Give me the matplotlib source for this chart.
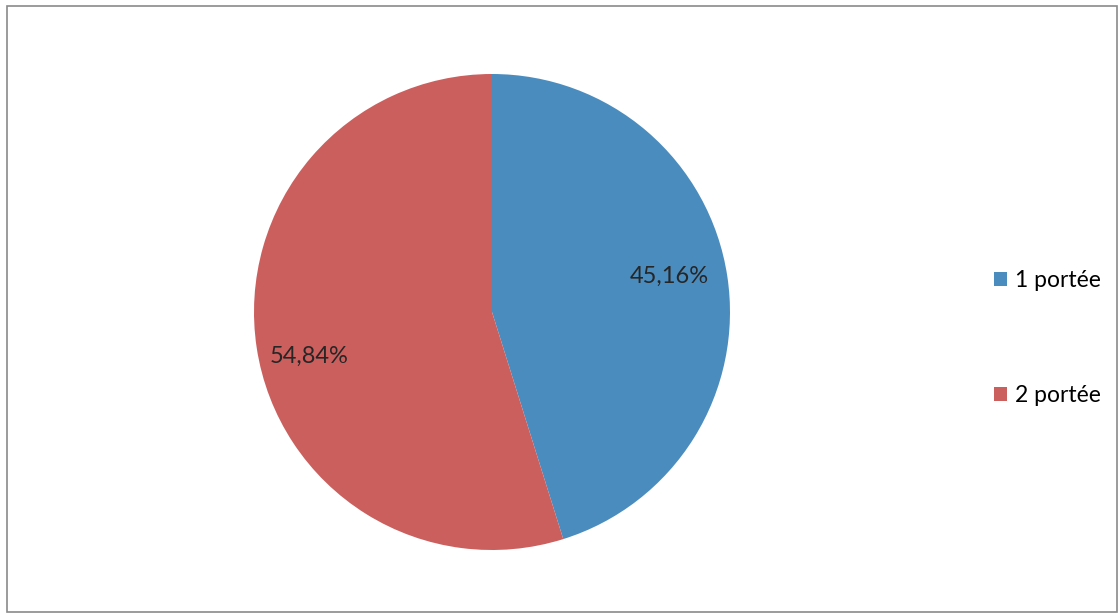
import numpy as np
import matplotlib.pyplot as plt
from matplotlib.patches import Rectangle

labels = ['1 portée', '2 portée']
shares = [45.16, 54.84]
colors = ['#4b8cbf', '#cb5f5d']

W, H = 1119, 614
fig = plt.figure(figsize=(W / 100, H / 100), dpi=100)
plt.rcParams['font.family'] = ['Lato', 'DejaVu Sans']

# chart frame
fig.patches.append(Rectangle((7 / W, 2 / H), (W - 9) / W, (H - 8) / H,
                             transform=fig.transFigure, fill=False,
                             edgecolor='#8a8a8a', linewidth=1.2))

# pie axes, center ~ (492, 312) px, radius ~ 238 px
cx, cy, r = 492, 312, 238
ax = fig.add_axes([(cx - r) / W, (H - cy - r) / H, 2 * r / W, 2 * r / H])


def fmt(p):
    return f'{p:.2f}'.replace('.', ',') + '%'


wedges, _, autotexts = ax.pie(shares, colors=colors, startangle=90, counterclock=False,
                              autopct=fmt, pctdistance=0.77, radius=1,
                              wedgeprops=dict(linewidth=0))

# label placement tweaks (extra angle in degrees, distance from centre)
label_shift = [(2.5, 0.76), (5.0, 0.79)]
for w, t, (da, dist) in zip(wedges, autotexts, label_shift):
    mid = np.deg2rad((w.theta1 + w.theta2) / 2 + da)
    t.set_position((dist * np.cos(mid), dist * np.sin(mid)))
    t.set_fontsize(17)
    t.set_color('#262626')
ax.set_xlim(-1, 1)
ax.set_ylim(-1, 1)
ax.set_aspect('equal')

fig.legend(wedges, labels, loc='center left', bbox_to_anchor=(973 / W, (H - 338) / H),
           frameon=False, fontsize=16.5, handlelength=0.6, handleheight=0.6,
           handletextpad=0.35, labelspacing=4.1)

fig.savefig('out.png', dpi=100, facecolor='white')
